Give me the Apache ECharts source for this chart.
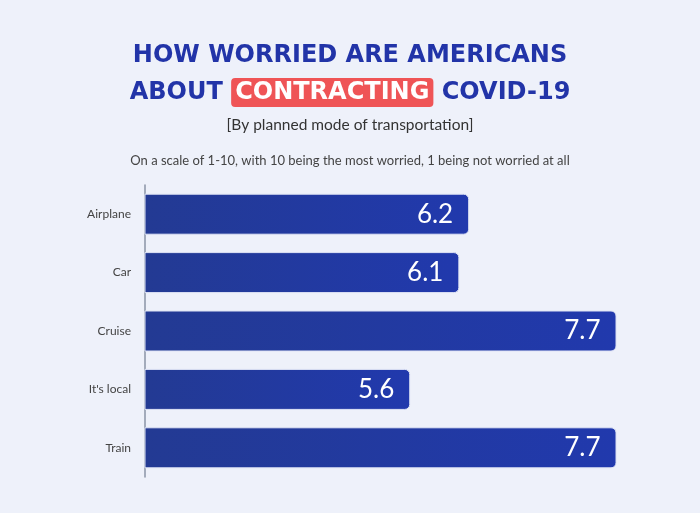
<!DOCTYPE html>
<html>
<head>
<meta charset="utf-8">
<script src="https://cdn.jsdelivr.net/npm/echarts@6/dist/echarts.min.js"></script>
<style>
  html, body { margin: 0; padding: 0; background: #eef1fa; }
  #chart { width: 700px; height: 513px; }
</style>
</head>
<body>
<div id="chart"></div>
<script>
const categories = ['Airplane', 'Car', 'Cruise', "It's local", 'Train'];
const worryScores = [6.2, 6.1, 7.7, 5.6, 7.7];

const chart = echarts.init(document.getElementById('chart'));

const barGradient = new echarts.graphic.LinearGradient(0, 0, 1, 0, [
  { offset: 0, color: '#233a93' },
  { offset: 1, color: '#2139ad' },
]);

const headStyle = {
  color: '#2234a8',
  fontFamily: 'DejaVu Sans',
  fontWeight: 'bold',
  fontSize: 24,
};

const option = {
  backgroundColor: '#eef1fa',
  title: [
    {
      text: 'HOW WORRIED ARE AMERICANS',
      left: 'center',
      top: 39,
      textStyle: headStyle,
    },
    {
      text: 'ABOUT {hl|CONTRACTING} COVID-19',
      left: 'center',
      top: 73,
      textStyle: {
        ...headStyle,
        rich: {
          hl: {
            ...headStyle,
            color: '#ffffff',
            backgroundColor: '#ef5456',
            borderRadius: 4,
            padding: [3, 4, 2, 4],
          },
        },
      },
    },
    {
      text: '[By planned mode of transportation]',
      left: 'center',
      top: 112,
      textStyle: { color: '#333', fontFamily: 'Lato', fontWeight: 'normal', fontSize: 15.5 },
    },
    {
      text: 'On a scale of 1-10, with 10 being the most worried, 1 being not worried at all',
      left: 'center',
      top: 149,
      textStyle: { color: '#444', fontFamily: 'Lato', fontWeight: 'normal', fontSize: 13 },
    },
  ],
  grid: { left: 145, right: 54, top: 185, bottom: 36 },
  xAxis: {
    type: 'value',
    min: 2.9,
    max: 8,
    show: false,
  },
  yAxis: {
    type: 'category',
    data: categories,
    inverse: true,
    axisLine: { show: true, lineStyle: { color: '#8a93a6', width: 1.5 } },
    axisTick: { show: false },
    axisLabel: { color: '#444', fontFamily: 'Lato', fontSize: 12, margin: 14 },
  },
  series: [
    {
      type: 'bar',
      data: worryScores,
      barWidth: 41,
      itemStyle: {
        color: barGradient,
        borderRadius: [0, 5, 5, 0],
        borderColor: '#dfe4f5',
        borderWidth: 1,
      },
      label: {
        show: true,
        position: 'insideRight',
        distance: 16,
        color: '#ffffff',
        fontFamily: 'Lato',
        fontSize: 26,
        formatter: (p) => p.value.toFixed(1),
      },
    },
  ],
  animation: false,
};

chart.setOption(option);
</script>
</body>
</html>
